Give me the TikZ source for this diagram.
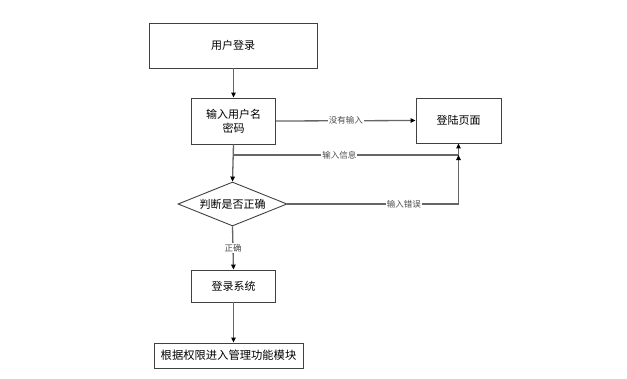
\documentclass[tikz,border=0pt]{standalone}
\usepackage{fontspec}
\setmainfont{Noto Sans CJK SC}
\usepackage{tikz}
\usetikzlibrary{arrows.meta,shapes.geometric}

\begin{document}
\begin{tikzpicture}[x=1pt, y=-1pt, >={Triangle[color=black,length=5pt,width=4.5pt]},
    flowbox/.style={draw=black!75, line width=0.9pt, inner sep=0pt, align=center, font=\fontsize{11}{14}\selectfont},
    decision/.style={diamond, draw=black!75, line width=0.9pt, inner sep=0pt, aspect=2.48, minimum width=109pt, minimum height=44pt, font=\fontsize{11}{14}\selectfont},
    flowline/.style={draw=black!60, line width=1.3pt},
    edgelabel/.style={fill=white, inner sep=1pt, text=black!70, font=\fontsize{8.5}{10}\selectfont}]
    \useasboundingbox (0,0) rectangle (627,378);

    % Boxes
    \node[flowbox, minimum width=168pt, minimum height=45pt] (login) at (233,45.5) {用户登录};
    \node[flowbox, minimum width=84pt, minimum height=46pt] (input) at (233.5,121) {输入用户名\\密码};
    \node[flowbox, minimum width=85pt, minimum height=45pt] (page) at (458.5,120.5) {登陆页面};
    \node[decision] (check) at (232.5,204) {判断是否正确};
    \node[flowbox, minimum width=84pt, minimum height=32pt] (system) at (233.5,286) {登录系统};
    \node[flowbox, minimum width=149pt, minimum height=25pt, font=\fontsize{11.3}{14}\selectfont] (module) at (228.5,355.5) {根据权限进入管理功能模块};

    % Junction under the input box
    \coordinate (info) at (233.5,155);

    % Connectors
    \draw[flowline, ->] (login.south -| input.north) -- (input.north);
    \draw[flowline, ->] (input.east) -- node[edgelabel] {没有输入} (page.west);
    \draw[flowline, ->] (input.south) -- (check.north);
    \draw[flowline, ->] (info) -- node[edgelabel, pos=0.47] {输入信息} (info -| page.south) -- (page.south);
    \draw[flowline, ->] (check.east) -- node[edgelabel, pos=0.68] {输入错误} (check.east -| page.south) -- (info -| page.south);
    \draw[flowline, ->] (check.south) -- node[edgelabel] {正确} (system.north);
    \draw[flowline, ->] (system.south) -- (system.south |- module.north);
\end{tikzpicture}
\end{document}
